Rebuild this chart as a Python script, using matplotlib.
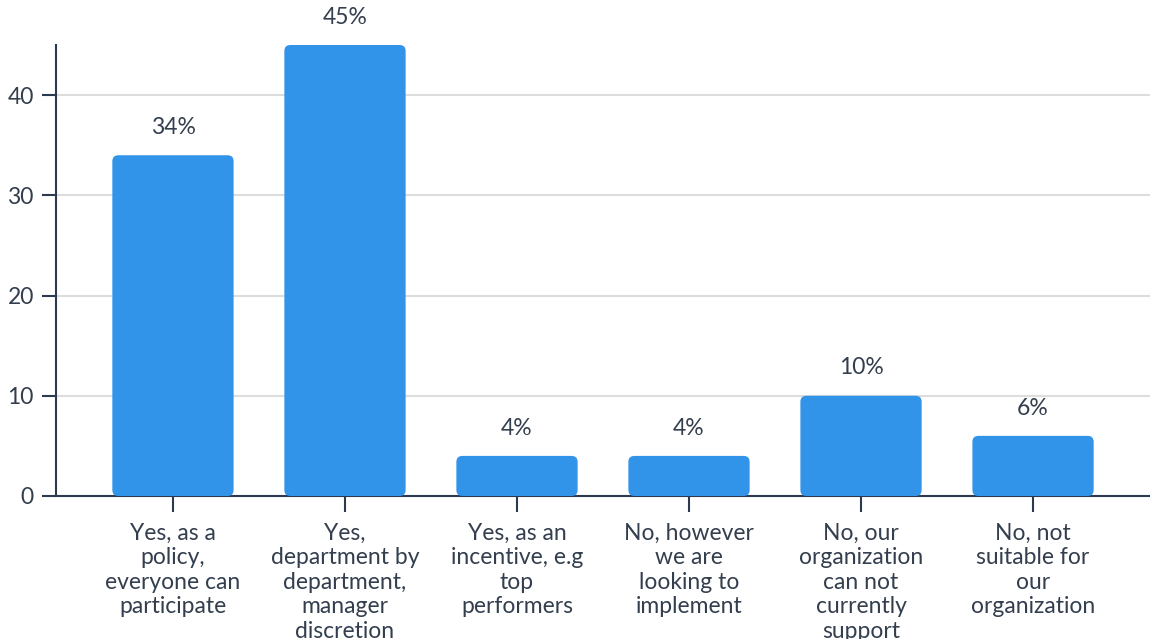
import matplotlib.pyplot as plt
from matplotlib.patches import FancyBboxPatch

plt.rcParams['font.family'] = ['Lato', 'DejaVu Sans']

# survey answers and share of respondents (%)
labels = [
    "Yes, as a\npolicy,\neveryone can\nparticipate",
    "Yes,\ndepartment by\ndepartment,\nmanager\ndiscretion",
    "Yes, as an\nincentive, e.g\ntop\nperformers",
    "No, however\nwe are\nlooking to\nimplement",
    "No, our\norganization\ncan not\ncurrently\nsupport",
    "No, not\nsuitable for\nour\norganization",
]
values = [34, 45, 4, 4, 10, 6]

bar_color = "#3194e9"
ink = "#333e4e"
W, H = 1150, 639

fig = plt.figure(figsize=(W / 100, H / 100), dpi=100)
ax = fig.add_axes([56 / W, (H - 496) / H, 1 - 56 / W, (496 - 45) / H])

x = list(range(len(values)))
ax.set_xlim(-0.68, len(values) - 0.32)
ax.set_ylim(0, 45)

# rounded bars: keep corner radius the same in x and y pixels
width = 0.705
bbox = ax.get_window_extent()
px_x = bbox.width / (ax.get_xlim()[1] - ax.get_xlim()[0])
px_y = bbox.height / (ax.get_ylim()[1] - ax.get_ylim()[0])
r = 6 / px_x
aspect = px_x / px_y
for xi, v in zip(x, values):
    patch = FancyBboxPatch((xi - width / 2, 0), width, v,
                           boxstyle=f"round,pad=0,rounding_size={r}",
                           mutation_aspect=aspect,
                           fc=bar_color, ec="none", zorder=3)
    ax.add_patch(patch)
    ax.annotate(f"{v}%", (xi, v), xytext=(0, 12.5), textcoords="offset points",
                ha="center", va="bottom", fontsize=16.5, color=ink)

ax.set_yticks([0, 10, 20, 30, 40])
ax.grid(axis="y", color="#dddddd", lw=1.5, zorder=0)
ax.set_axisbelow(True)
ax.set_xticks(x)
ax.set_xticklabels(labels, fontsize=16.5, color=ink, linespacing=1.2)
ax.tick_params(axis="y", labelsize=16.5, labelcolor=ink, length=10, width=1.5, color="#2c3a4f", pad=6)
ax.tick_params(axis="x", length=11.5, width=1.5, color="#2c3a4f", pad=8)

for s in ["top", "right"]:
    ax.spines[s].set_visible(False)
for s in ["left", "bottom"]:
    ax.spines[s].set_color("#2c3a4f")
    ax.spines[s].set_linewidth(1.5)

fig.savefig("out.png", dpi=100)
